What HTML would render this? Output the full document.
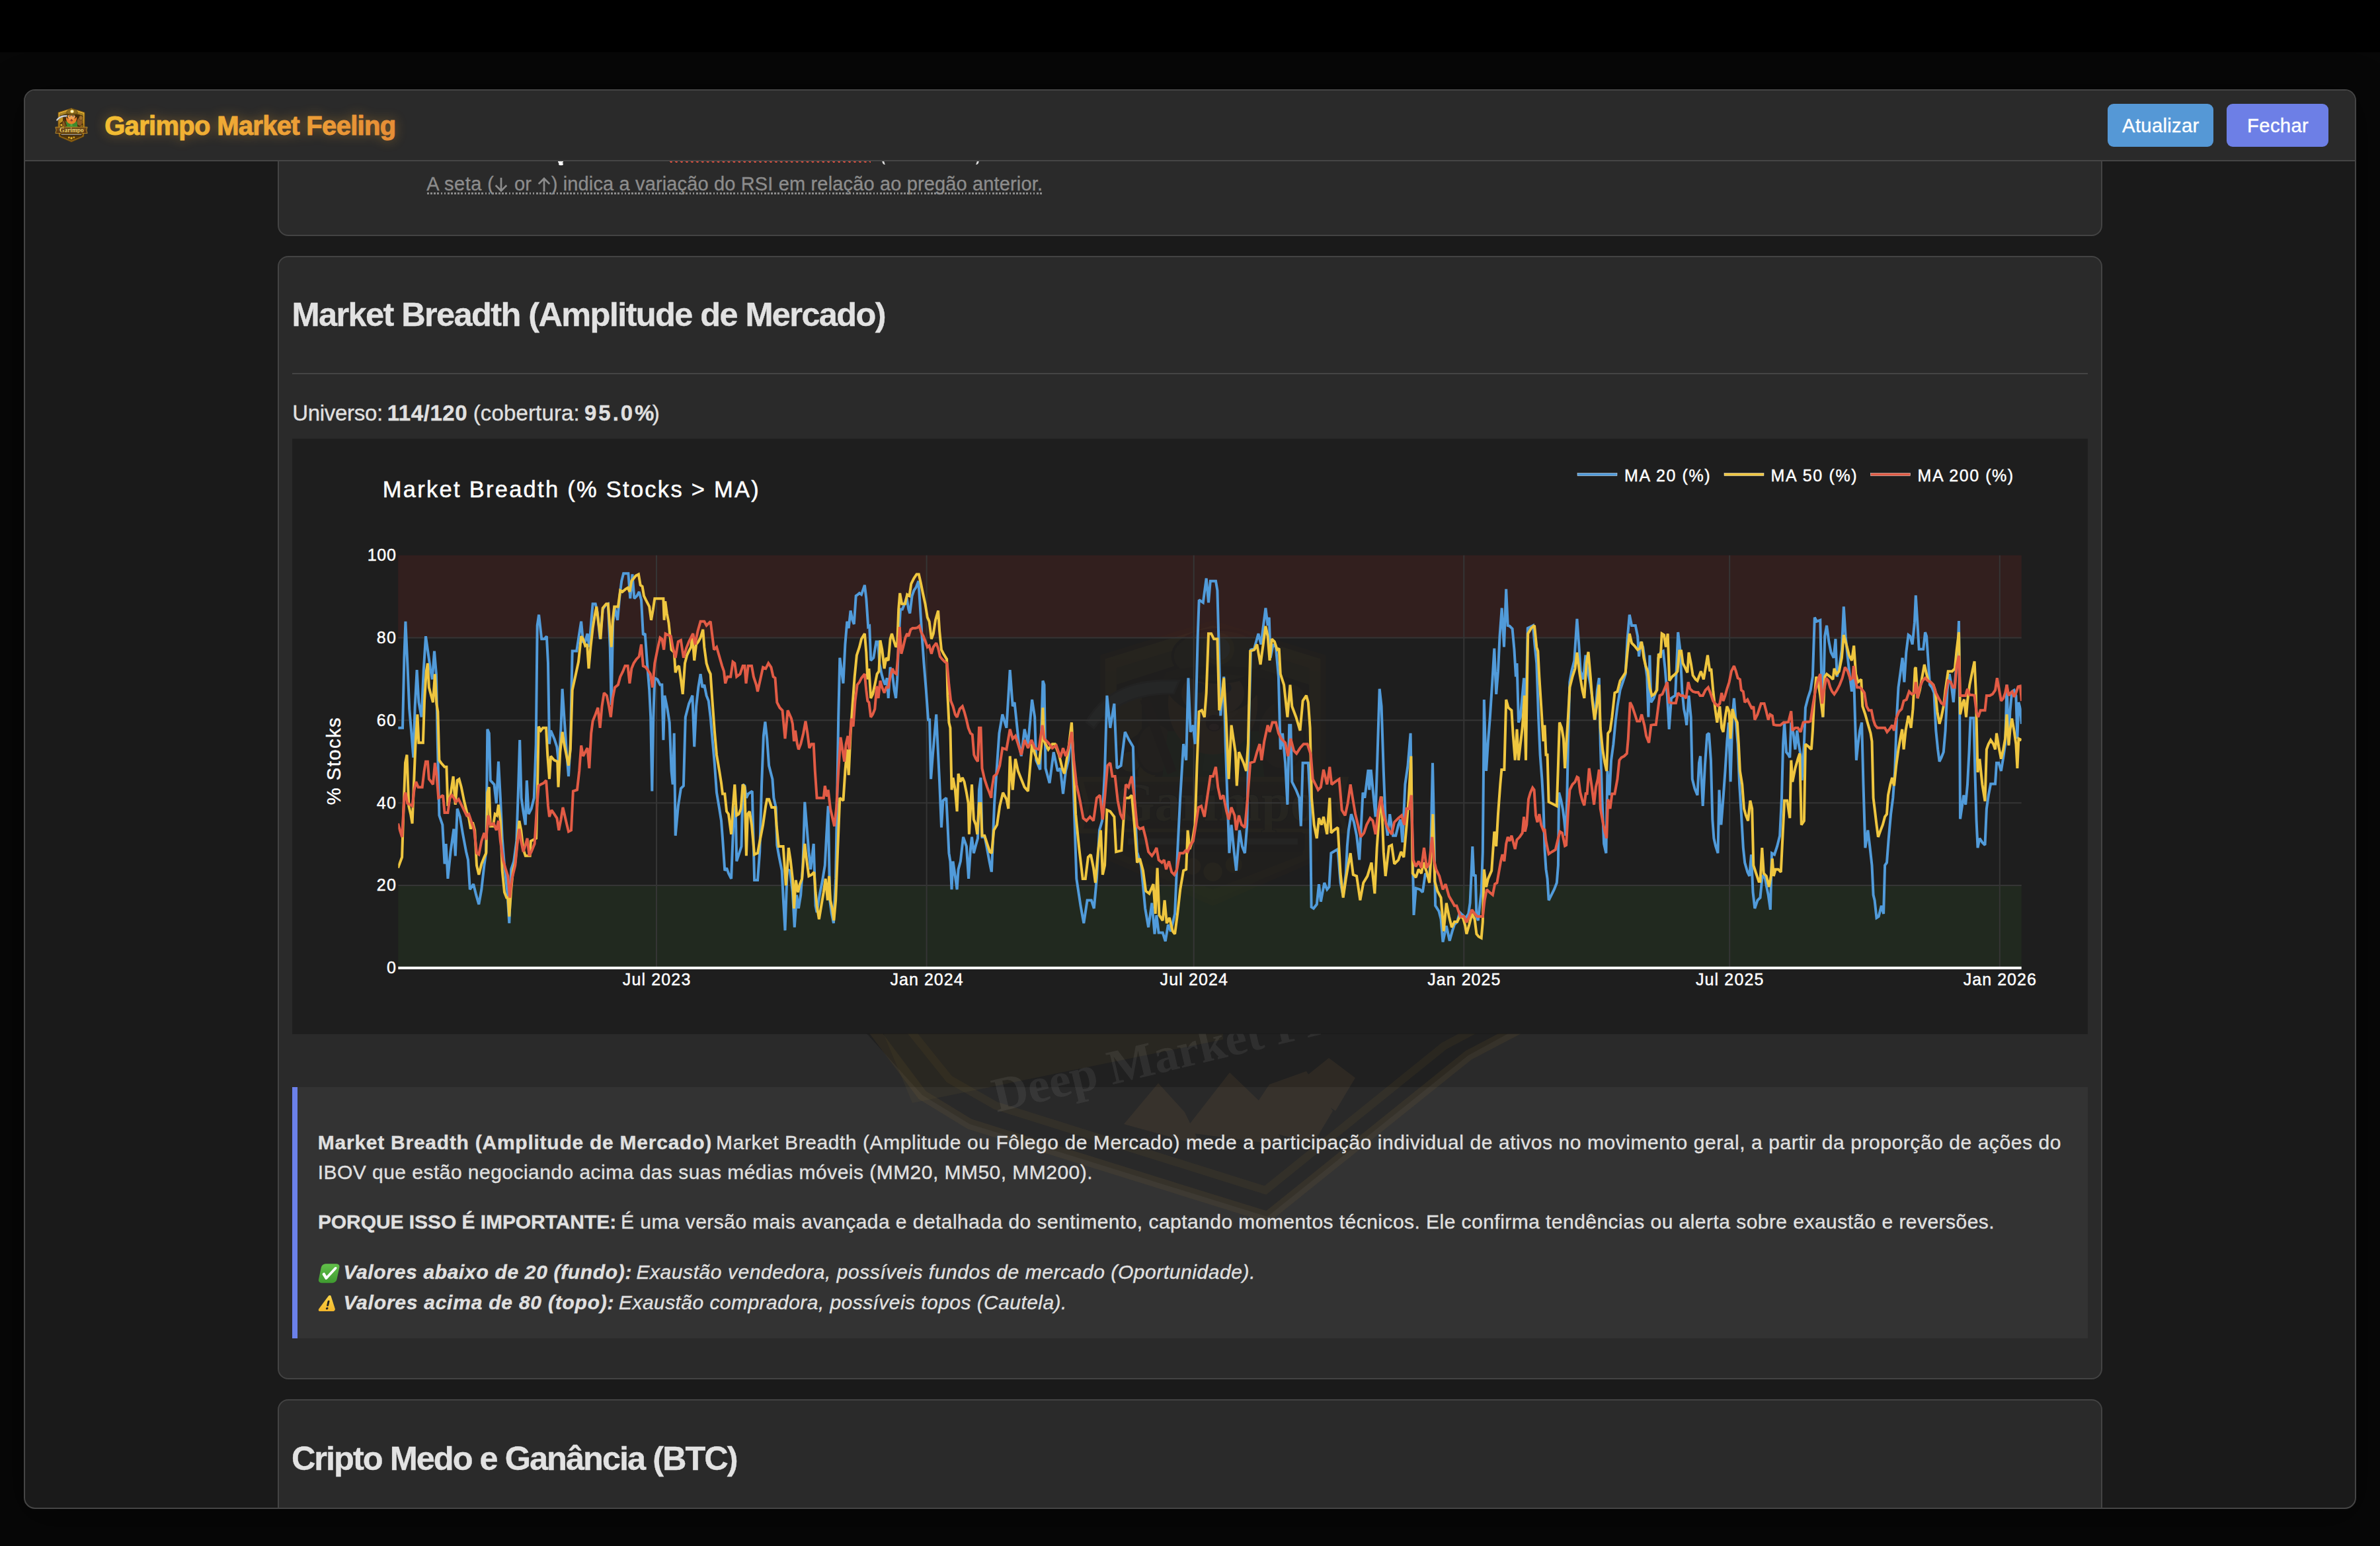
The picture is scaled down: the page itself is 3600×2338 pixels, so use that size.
<!DOCTYPE html>
<html lang="pt-BR">
<head>
<meta charset="utf-8">
<title>Garimpo Market Feeling</title>
<style>
html,body{margin:0;padding:0;}
body{width:3600px;height:2338px;overflow:hidden;background:#070707;font-family:"Liberation Sans", sans-serif;position:relative;}
.topbar{position:absolute;left:0;top:0;width:3600px;height:79px;background:#000;}
.modal{position:absolute;left:36px;top:135px;width:3524px;height:2143px;border:2px solid #454545;border-radius:17px;background:#1a1a1a;box-shadow:0 10px 60px 4px rgba(0,0,0,.45);overflow:hidden;}
.page{position:absolute;left:-38px;top:-137px;width:3600px;height:2338px;}
.hdr{position:absolute;left:38px;top:137px;width:3524px;height:105px;background:#2a2a2a;border-bottom:2px solid #454545;z-index:5;}
.card{position:absolute;left:420px;width:2756px;border:2px solid #434343;border-radius:16px;background:#2a2a2a;}
.t{position:absolute;margin:0;white-space:pre;line-height:1;-webkit-text-stroke:.35px currentColor;}
.btn{position:absolute;top:157px;height:64.5px;border-radius:9px;}
.hr{position:absolute;left:442px;top:563.7px;width:2716px;height:2px;background:#444;}
.info{position:absolute;left:442px;top:1644px;width:2708px;height:380px;border-left:8px solid #6b80e9;background:rgba(255,255,255,.043);}
svg.plot,svg.wm{position:absolute;left:0;top:0;}
.ico{position:absolute;}
.frag{position:absolute;background:#fff;}
</style>
</head>
<body>
<div class="topbar"></div>
<div class="modal"><div class="page">

<svg width="0" height="0" style="position:absolute"><defs><linearGradient id="lgGold" x1="0" y1="0" x2="0" y2="1"><stop offset="0" stop-color="#e9b738"/><stop offset=".5" stop-color="#b9831b"/><stop offset="1" stop-color="#8a5f12"/></linearGradient>
<linearGradient id="lgBan" x1="0" y1="0" x2="0" y2="1"><stop offset="0" stop-color="#7b501b"/><stop offset="1" stop-color="#4f3010"/></linearGradient>
<linearGradient id="lgTxt" x1="0" y1="0" x2="0" y2="1"><stop offset="0" stop-color="#fff3b0"/><stop offset="1" stop-color="#e2b93c"/></linearGradient>
<g id="logo">
<path d="M32 7.800L52 14v22.600l-.8 9-.6 5L32 58.700 13.400 50.600l-.6-5-.8-9V14z" fill="url(#lgGold)" stroke="#6d4a0d" stroke-width=".9"/>
<path d="M32 10.600l17.500 5.400V37h-35V16z" fill="#3f2a0b"/>
<path d="M32 10.600l17.500 5.400v3L32 13.400 14.500 19v-3z" fill="#caa02c" opacity=".75"/>
<path d="M14.500 21l4.600-2.600v9.200l-4.600 2.800zM49.500 21l-4.600-2.600v10l4.600 2.600z" fill="#d7a526" opacity=".85"/>
<circle cx="17" cy="33" r="1.800" fill="#e3b22e"/><circle cx="20" cy="35" r="1.600" fill="#c9961c"/><circle cx="47" cy="34.200" r="1.800" fill="#8a6420"/>
<path d="M15.200 46h33.600l-.5 3.900L32 56.200 15.700 49.900z" fill="#523609"/>
<ellipse cx="21.600" cy="30.600" rx="3.500" ry="4.600" fill="#86561f" stroke="#3a2408" stroke-width=".5"/>
<ellipse cx="44.400" cy="28.200" rx="4.300" ry="6.200" fill="#8f5c25" stroke="#3a2408" stroke-width=".5"/>
<ellipse cx="46.300" cy="22.400" rx="2.900" ry="3.600" fill="#a3712c" stroke="#3a2408" stroke-width=".5"/>
<path d="M23.800 27.500h16.600l1 8.700H22.800z" fill="#3d8a2e"/>
<path d="M30.600 30.500l1.400 1.200 1.400-1.200 .4 4.200h-3.600z" fill="#57a83f"/>
<ellipse cx="32" cy="20.600" rx="5.700" ry="4.200" fill="#f0a252"/>
<path d="M24 20.800c-.8 6 2.700 10.700 8 10.900 5.300-.2 8.800-4.900 8-10.900-1.900 2.500-4.300 3.300-6.300 3.100l-1.700-.6-1.700.6c-2 .2-4.400-.6-6.300-3.100z" fill="#e77f2a"/>
<path d="M27.300 23.600c1.600 1 3.200 1 4.700-.1 1.500 1.100 3.100 1.100 4.700.1-.6 1.700-2.400 2.300-4.700 1.200-2.300 1.100-4.100.5-4.700-1.200z" fill="#f5a24b"/>
<ellipse cx="32.200" cy="26" rx="1.500" ry="1.500" fill="#5a1a10"/><ellipse cx="32.200" cy="26.700" rx=".9" ry=".6" fill="#e8727a"/>
<circle cx="29.600" cy="19.600" r=".9" fill="#2a4a86"/><circle cx="34.500" cy="19.600" r=".9" fill="#2a4a86"/>
<ellipse cx="33" cy="13.800" rx="8.300" ry="4.800" fill="#8a6a1e" stroke="#3e2a08" stroke-width=".5"/>
<path d="M23.600 16.800c3-1.500 15.800-1.500 18.800 0l1 1.700c-4-1.700-16.800-1.700-20.800 0z" fill="#5e4310"/>
<circle cx="33" cy="12.500" r="2.500" fill="#fff6c4" stroke="#dcae34" stroke-width=".8"/>
<path d="M19.600 21.600l5 13.400" stroke="#54340f" stroke-width="1.800" fill="none"/>
<path d="M9 25.800c2.900-5.400 8.600-8 16.900-7.500l-1 2.300c-6.400 0-11.100 1.800-14.500 6.300z" fill="#d5d9df" stroke="#7d828a" stroke-width=".35"/>
<path d="M7.900 36.200h48.200l-1.300 4.700 1.300 4.700H7.900l1.300-4.700z" fill="url(#lgBan)" stroke="#c4932a" stroke-width=".9"/>
<text x="14.100" y="43.700" font-family="'Liberation Serif',serif" font-weight="700" font-size="9.900" textLength="36.700" lengthAdjust="spacingAndGlyphs" fill="url(#lgTxt)" stroke="#33200a" stroke-width=".3" paint-order="stroke">Garimpo</text>
<rect x="15.300" y="45.800" width="33.400" height="3.500" rx=".8" fill="#36220c"/>
<rect x="16.600" y="46.950" width="30.800" height="1.100" fill="#d9d2c4" opacity=".8"/>
<circle cx="28.300" cy="52" r="1.500" fill="#d9a522"/><circle cx="32" cy="53" r="1.700" fill="#e3b12c"/><circle cx="35.800" cy="51.700" r="1.500" fill="#c9961c"/>
</g>
</defs></svg>

<!-- scrolled content -->
<div class="card" style="top:100px;height:253px;"></div>
<div class="card" style="top:387px;height:1695px;"></div>
<div class="card" style="top:2116px;height:300px;"></div>

<!-- fragments of clipped line under header -->
<div class="frag" style="left:843.5px;top:244px;width:8px;height:3px;border-radius:0 0 3px 3px;"></div>
<div class="frag" style="left:844.5px;top:246.5px;width:7px;height:3.2px;border-radius:1px 1px 3px 3px;"></div>
<div style="position:absolute;left:1012.6px;top:241.6px;width:304px;height:4.4px;background:radial-gradient(circle at 2.2px 2.2px,#e25241 1.9px,transparent 2.3px) 0 0/7.95px 4.4px repeat-x;"></div>
<div class="frag" style="left:1335px;top:244px;width:3px;height:5px;border-radius:0 0 0 3px;background:#ddd;transform:skewX(18deg);"></div>
<div class="frag" style="left:1477px;top:244px;width:3px;height:5px;border-radius:0 0 3px 0;background:#ddd;transform:skewX(-18deg);"></div>

<div class="hr"></div>

<svg class="plot" width="3600" height="2338" viewBox="0 0 3600 2338">
<rect x="442" y="663.5" width="2716" height="900.5" fill="#1e1e1e"/>
<rect x="602.3" y="839.7" width="2455.4" height="124.8" fill="#321f1e"/>
<rect x="602.3" y="1339.0" width="2455.4" height="124.8" fill="#21291f"/>
<g opacity="0.04" transform="translate(1568,877) scale(8.33)"><use href="#logo"/></g>
<line x1="602.3" x2="3057.7" y1="1339.0" y2="1339.0" stroke="#353535" stroke-width="2"/>
<line x1="602.3" x2="3057.7" y1="1214.2" y2="1214.2" stroke="#353535" stroke-width="2"/>
<line x1="602.3" x2="3057.7" y1="1089.3" y2="1089.3" stroke="#353535" stroke-width="2"/>
<line x1="602.3" x2="3057.7" y1="964.5" y2="964.5" stroke="#353535" stroke-width="2"/>
<line x1="993" x2="993" y1="839.7" y2="1463.8" stroke="#353535" stroke-width="2"/>
<line x1="1401.6" x2="1401.6" y1="839.7" y2="1463.8" stroke="#353535" stroke-width="2"/>
<line x1="1805.7" x2="1805.7" y1="839.7" y2="1463.8" stroke="#353535" stroke-width="2"/>
<line x1="2214.3" x2="2214.3" y1="839.7" y2="1463.8" stroke="#353535" stroke-width="2"/>
<line x1="2616.2" x2="2616.2" y1="839.7" y2="1463.8" stroke="#353535" stroke-width="2"/>
<line x1="3024.8" x2="3024.8" y1="839.7" y2="1463.8" stroke="#353535" stroke-width="2"/>
<clipPath id="plotclip"><rect x="602.3" y="839.7" width="2455.4" height="628.1"/></clipPath>
<g fill="none" stroke-width="4" stroke-linejoin="miter" stroke-miterlimit="2" stroke-linecap="butt" clip-path="url(#plotclip)">
<polyline stroke="#519bda" points="602.0,1100.8 609.0,1100.8 611.4,994.8 613.4,939.8 616.3,1003.0 619.2,1072.2 622.4,1108.9 625.3,1145.6 627.7,1068.2 630.6,1013.2 633.4,1062.1 637.5,1084.5 640.7,1015.2 644.0,962.2 646.9,982.6 650.9,1011.1 653.8,1027.4 657.0,984.6 659.9,1019.3 661.9,1125.2 664.4,1233.2 669.3,1247.4 672.5,1306.5 674.6,1276.0 677.4,1328.9 681.5,1288.2 686.4,1253.6 688.8,1294.3 691.7,1223.0 695.8,1235.2 699.8,1259.7 705.1,1288.2 708.0,1300.4 710.8,1345.2 716.1,1337.1 720.2,1353.4 724.3,1367.6 728.3,1345.2 732.4,1308.6 735.3,1288.2 737.3,1102.8 739.8,1108.9 741.8,1180.2 747.5,1186.3 750.8,1214.9 754.0,1151.7 756.9,1206.7 759.7,1267.8 763.0,1308.6 767.1,1345.2 770.3,1396.2 773.2,1314.7 777.2,1302.5 781.3,1271.9 784.2,1186.3 786.2,1119.1 788.6,1206.7 791.5,1227.1 794.8,1247.4 796.8,1180.2 799.6,1231.2 803.7,1223.0 807.8,1206.7 810.7,1125.2 812.7,945.9 815.1,929.6 819.2,966.3 823.3,966.3 826.9,962.2 829.0,1003.0 831.0,1125.2 833.1,1104.8 838.4,1117.1 842.4,1129.3 845.3,1157.8 848.5,1100.8 850.6,1041.7 853.4,1084.5 856.7,1133.4 860.0,1174.1 862.8,1125.2 865.7,984.6 872.2,984.6 876.2,958.2 879.1,939.8 882.0,970.4 885.2,970.4 888.5,958.2 891.3,978.5 894.2,941.9 896.6,913.3 900.7,913.3 903.5,925.6 907.6,966.3 911.7,921.5 915.8,915.4 919.8,913.3 922.7,978.5 924.7,1066.1 927.2,941.9 930.0,919.5 934.1,937.8 937.4,901.1 940.2,878.7 943.1,867.3 950.4,867.3 953.3,905.2 956.5,868.5 959.4,905.2 963.4,901.1 966.7,895.0 970.0,907.2 972.8,960.2 975.7,958.2 978.9,1003.0 982.2,1043.7 984.2,1084.5 986.3,1196.5 988.3,1084.5 990.3,1025.4 994.4,1027.4 998.5,1035.6 1001.3,1035.6 1003.4,1119.1 1005.4,1051.9 1009.5,1072.2 1012.7,1092.6 1015.6,1166.0 1017.6,1186.3 1019.7,1108.9 1021.7,1263.7 1025.8,1218.9 1029.9,1192.4 1033.9,1188.4 1036.8,1084.5 1042.1,1064.1 1047.4,1051.9 1050.2,1129.3 1053.1,1068.2 1056.3,1039.6 1059.6,1019.3 1062.5,1039.6 1065.3,1035.6 1068.6,1051.9 1071.8,1060.0 1074.7,1084.5 1077.5,1117.1 1080.8,1153.7 1084.0,1198.6 1088.1,1223.0 1091.0,1241.3 1093.0,1267.8 1096.3,1316.7 1099.1,1312.6 1102.0,1320.8 1106.1,1328.9 1109.3,1247.4 1112.6,1218.9 1114.2,1302.5 1117.5,1292.3 1121.5,1280.0 1123.6,1186.3 1126.4,1188.4 1128.9,1206.7 1131.7,1200.6 1137.8,1196.5 1141.1,1331.0 1146.0,1331.0 1149.2,1288.2 1152.1,1186.3 1154.9,1113.0 1157.4,1091.4 1160.2,1117.1 1163.1,1157.8 1168.4,1178.2 1170.4,1206.7 1173.7,1221.0 1175.3,1278.0 1178.6,1296.3 1182.7,1316.7 1184.7,1357.5 1187.5,1407.2 1190.8,1314.7 1194.9,1316.7 1198.9,1349.3 1201.8,1402.3 1205.1,1353.4 1207.9,1373.8 1211.2,1353.4 1214.4,1308.6 1217.3,1212.8 1220.1,1247.4 1223.4,1288.2 1226.2,1314.7 1230.7,1276.0 1233.6,1369.7 1235.6,1379.9 1239.7,1353.4 1243.8,1333.0 1247.8,1308.6 1249.9,1267.8 1252.7,1218.9 1255.2,1361.5 1258.0,1381.9 1260.9,1396.2 1264.1,1328.9 1266.2,1206.7 1268.2,1084.5 1270.3,994.8 1273.1,1015.2 1275.5,1033.5 1278.4,974.5 1281.3,939.8 1283.7,950.0 1286.6,923.5 1289.4,937.8 1291.8,943.9 1294.7,901.1 1297.6,899.1 1300.0,897.0 1303.0,899.1 1307.9,884.8 1310.3,905.2 1313.2,948.0 1315.2,946.8 1317.2,998.9 1321.3,994.8 1325.4,970.4 1328.2,970.4 1330.3,1003.0 1333.5,1019.3 1336.4,1029.5 1338.8,1035.6 1341.7,1025.4 1343.7,1055.9 1346.6,1009.1 1349.8,1019.3 1352.7,1043.7 1355.1,1055.9 1357.2,1027.4 1359.2,970.4 1362.0,921.5 1364.9,921.5 1368.2,913.3 1371.4,903.2 1374.3,921.5 1376.3,927.6 1379.6,901.1 1382.4,893.0 1385.7,888.1 1389.3,878.7 1391.8,917.4 1394.6,962.2 1397.5,1003.0 1400.8,1043.7 1404.0,1088.5 1406.1,1088.5 1408.1,1178.2 1410.9,1141.5 1413.8,1108.9 1416.2,1080.4 1418.3,1125.2 1421.1,1182.3 1424.0,1251.5 1426.4,1210.8 1431.3,1206.7 1433.4,1247.4 1435.4,1290.2 1437.4,1302.5 1439.5,1345.2 1441.5,1302.5 1444.8,1324.9 1447.6,1345.2 1449.6,1314.7 1452.9,1302.5 1457.0,1265.8 1461.9,1280.0 1465.1,1328.9 1468.0,1284.1 1470.0,1265.8 1472.9,1290.2 1476.1,1278.0 1479.0,1267.8 1481.0,1194.5 1483.5,1176.1 1485.5,1265.8 1489.6,1265.8 1492.4,1280.0 1496.5,1302.5 1499.4,1316.7 1500.0,1316.7 1504.1,1214.9 1511.4,1108.9 1516.3,1080.4 1522.4,1100.8 1527.7,1013.2 1531.8,1068.2 1534.6,1062.1 1540.7,1121.1 1544.8,1143.5 1549.7,1102.8 1555.0,1125.2 1561.1,1058.0 1565.2,1084.5 1567.2,1149.7 1573.3,1163.9 1577.4,1029.5 1579.5,1035.6 1581.5,1161.9 1587.6,1184.3 1593.7,1137.4 1599.8,1166.0 1603.9,1161.9 1608.0,1200.6 1612.0,1166.0 1616.1,1149.7 1621.0,1100.8 1624.3,1206.7 1628.3,1328.9 1634.5,1369.7 1639.3,1396.2 1644.6,1361.5 1650.8,1361.5 1654.8,1373.8 1658.9,1328.9 1663.0,1255.6 1667.1,1241.3 1671.1,1166.0 1674.4,1051.9 1679.3,1100.8 1685.4,1064.1 1689.5,1161.9 1695.6,1157.8 1701.7,1106.9 1707.8,1119.1 1713.9,1129.3 1715.9,1206.7 1720.0,1288.2 1726.1,1308.6 1732.2,1373.8 1737.1,1402.3 1742.4,1365.6 1746.5,1412.5 1749.4,1383.9 1752.6,1410.4 1758.7,1410.4 1762.8,1423.5 1766.9,1398.2 1771.0,1408.4 1777.1,1381.9 1781.1,1288.2 1785.2,1206.7 1790.1,1125.2 1794.2,1149.7 1797.4,1025.4 1800.7,1106.9 1804.8,1096.7 1807.6,1125.2 1811.7,962.2 1813.7,907.2 1819.8,911.3 1824.7,874.6 1828.0,911.3 1830.8,878.7 1839.0,878.7 1841.4,893.0 1844.3,1003.0 1846.3,1082.4 1851.2,1023.4 1853.7,1125.2 1856.5,1206.7 1859.4,1290.2 1862.6,1247.4 1866.7,1288.2 1870.0,1316.7 1874.9,1255.6 1878.9,1280.0 1883.0,1290.2 1886.3,1247.4 1889.1,1092.6 1892.0,982.6 1897.3,980.6 1903.4,958.2 1907.4,974.5 1914.4,919.5 1917.6,945.9 1919.7,933.7 1921.7,994.8 1925.8,974.5 1929.9,978.5 1933.9,1023.4 1936.8,1133.4 1940.0,1108.9 1944.1,1153.7 1947.4,1216.9 1950.2,1096.7 1952.3,1096.7 1954.3,1182.3 1960.4,1194.5 1965.3,1206.7 1967.8,1249.5 1970.6,1153.7 1978.8,1153.7 1981.6,1206.7 1983.6,1371.7 1986.9,1373.8 1991.8,1367.6 1995.0,1337.1 1997.9,1363.6 2003.2,1335.0 2007.3,1345.2 2010.5,1341.2 2013.4,1290.2 2023.6,1284.1 2027.6,1335.0 2031.7,1355.4 2035.8,1320.8 2037.8,1280.0 2039.9,1255.6 2043.9,1231.2 2048.0,1243.4 2052.1,1263.7 2056.2,1300.4 2061.5,1198.6 2064.3,1206.7 2069.6,1163.9 2071.2,1194.5 2073.7,1163.9 2077.8,1206.7 2080.6,1235.2 2086.7,1041.7 2089.6,1068.2 2092.8,1166.0 2095.7,1239.3 2098.9,1263.7 2102.2,1231.2 2107.1,1263.7 2111.2,1263.7 2115.2,1247.4 2118.5,1239.3 2121.4,1273.9 2125.4,1186.3 2129.5,1157.8 2133.6,1108.9 2135.6,1231.2 2138.5,1383.9 2141.7,1343.2 2147.8,1345.2 2151.9,1349.3 2156.0,1320.8 2162.1,1328.9 2164.1,1288.2 2167.0,1153.7 2169.0,1247.4 2171.1,1369.7 2176.4,1377.8 2179.6,1390.1 2182.5,1424.7 2187.8,1400.2 2192.7,1422.7 2196.7,1408.4 2200.0,1398.2 2204.1,1394.1 2208.1,1379.9 2212.2,1383.9 2217.1,1388.0 2221.2,1381.9 2223.6,1365.6 2225.3,1328.9 2227.3,1280.0 2229.3,1324.9 2231.8,1322.8 2233.4,1386.0 2235.9,1392.1 2238.7,1365.6 2240.7,1349.3 2242.8,1288.2 2244.0,1166.0 2244.8,1058.0 2246.9,1133.4 2248.1,1166.0 2250.9,1121.1 2253.8,1084.5 2257.0,1035.6 2260.3,980.6 2263.2,1049.8 2266.0,1015.2 2268.5,962.2 2271.7,919.5 2275.0,978.5 2278.2,890.9 2280.7,945.9 2283.5,946.8 2287.6,950.8 2290.5,982.6 2292.9,1023.4 2294.5,1003.0 2297.0,1092.6 2299.8,1084.5 2302.7,1051.9 2305.1,1025.4 2308.0,1084.5 2310.8,950.0 2314.9,948.0 2319.0,945.9 2321.4,974.5 2324.3,1003.0 2327.1,1084.5 2329.6,1141.5 2332.4,1178.2 2334.5,1214.9 2336.5,1284.1 2338.5,1314.7 2340.6,1328.9 2342.6,1361.5 2346.7,1353.4 2350.8,1345.2 2354.8,1335.0 2356.9,1308.6 2358.1,1198.6 2360.9,1208.7 2363.8,1223.0 2366.2,1241.3 2368.3,1263.7 2370.3,1206.7 2371.9,1125.2 2374.4,1031.5 2377.2,1015.2 2381.3,998.9 2385.4,935.8 2388.2,974.5 2390.7,1015.2 2394.8,1027.4 2398.4,990.8 2401.7,1015.2 2405.8,1035.6 2409.8,1064.1 2412.7,1088.5 2415.9,1043.7 2418.8,1025.4 2420.8,1125.2 2423.3,1206.7 2426.1,1276.0 2429.4,1290.2 2431.4,1166.0 2434.3,1202.6 2437.1,1149.7 2440.4,1125.2 2443.7,1090.6 2446.5,1068.2 2450.6,1043.7 2454.7,1031.5 2458.7,1019.3 2461.6,966.3 2464.8,929.6 2468.1,945.9 2473.8,945.9 2477.1,962.2 2479.1,992.8 2482.0,970.4 2485.2,978.5 2488.5,1003.0 2491.3,1023.4 2493.4,1084.5 2495.4,990.8 2497.4,1062.1 2501.5,1055.9 2505.6,1043.7 2508.4,994.8 2511.7,986.7 2515.8,984.6 2518.6,1011.1 2521.9,1051.9 2524.7,1102.8 2528.0,1055.9 2530.8,1053.9 2534.1,1051.9 2538.2,956.1 2541.4,982.6 2544.3,1043.7 2547.1,1072.2 2549.6,1084.5 2551.2,1096.7 2554.5,1051.9 2557.7,1084.5 2559.8,1178.2 2563.4,1192.4 2567.5,1202.6 2570.0,1153.7 2572.0,1143.5 2575.7,1218.9 2578.9,1157.8 2582.2,1111.0 2585.0,1108.9 2587.9,1149.7 2590.3,1239.3 2592.4,1267.8 2595.2,1280.0 2598.5,1290.2 2600.5,1194.5 2603.4,1247.4 2606.6,1206.7 2609.5,1166.0 2612.3,1121.1 2614.8,1092.6 2617.6,1182.3 2620.5,1084.5 2622.9,1055.9 2625.8,1092.6 2628.6,1125.2 2631.1,1186.3 2633.9,1231.2 2636.8,1282.1 2639.2,1304.5 2643.3,1318.8 2646.2,1324.9 2649.0,1292.3 2651.5,1349.3 2654.3,1373.8 2658.4,1361.5 2662.5,1357.5 2665.3,1328.9 2668.6,1320.8 2671.8,1339.1 2674.7,1353.4 2677.9,1375.8 2680.0,1290.2 2684.0,1292.3 2688.1,1280.0 2692.2,1263.7 2695.0,1206.7 2697.1,1125.2 2699.1,1092.6 2702.0,1137.4 2705.2,1141.5 2707.3,1145.6 2709.3,1092.6 2712.6,1108.9 2715.4,1133.4 2718.3,1104.8 2720.7,1125.2 2723.6,1141.5 2725.6,1180.2 2728.9,1125.2 2730.9,1070.2 2734.6,1055.9 2738.6,1043.7 2741.9,1023.4 2744.8,933.7 2748.0,939.8 2753.3,937.8 2755.4,1035.6 2757.4,1084.5 2760.2,962.2 2763.1,945.9 2766.4,970.4 2769.6,986.7 2773.7,994.8 2776.5,966.3 2778.6,1023.4 2781.8,1011.1 2785.9,982.6 2788.8,917.4 2791.6,962.2 2794.9,994.8 2798.1,1023.4 2801.0,1045.8 2803.8,1011.1 2805.9,1084.5 2807.9,1149.7 2810.4,1125.2 2813.2,1104.8 2816.1,1092.6 2818.5,1186.3 2821.4,1282.1 2825.4,1255.6 2828.3,1280.0 2831.5,1308.6 2833.6,1353.4 2835.6,1361.5 2838.5,1388.0 2841.7,1386.0 2845.8,1369.7 2849.1,1381.9 2851.1,1308.6 2854.0,1304.5 2856.8,1267.8 2860.1,1231.2 2863.3,1206.7 2866.2,1166.0 2869.0,1084.5 2871.5,1039.6 2874.3,1019.3 2877.6,994.8 2880.4,1031.5 2883.3,986.7 2886.6,960.2 2889.4,962.2 2892.7,974.5 2895.9,941.9 2897.8,900.3 2900.6,945.9 2902.7,981.8 2909.2,981.8 2912.0,956.1 2914.1,962.2 2916.9,1003.0 2919.0,1035.6 2922.2,1039.6 2925.5,1047.8 2928.3,1104.8 2931.2,1133.4 2933.6,1151.7 2936.5,1145.6 2939.8,1137.4 2942.6,1104.8 2945.5,1043.7 2948.7,1019.3 2951.6,1035.6 2954.8,1062.1 2958.1,1019.3 2960.9,994.8 2963.0,939.0 2964.2,1084.5 2965.0,1238.5 2967.9,1218.9 2970.3,1202.6 2973.2,1216.9 2976.0,1186.3 2978.5,1137.4 2980.5,1085.7 2985.4,1085.7 2987.4,1166.0 2989.5,1239.3 2991.5,1282.1 2994.4,1267.8 2998.4,1273.9 3002.5,1278.0 3004.9,1223.0 3007.8,1202.6 3011.1,1185.5 3018.0,1185.5 3020.0,1153.7 3023.3,1153.7 3026.9,1166.0 3030.2,1145.6 3033.1,1125.2 3035.5,1035.6 3038.4,1125.2 3040.4,1076.3 3043.2,1045.8 3046.5,1043.7 3049.4,1051.9 3051.4,1117.1 3053.4,1062.1 3055.9,1072.2 3057.9,1094.7"/>
<polyline stroke="#efc63f" points="602.0,1312.6 608.1,1296.3 610.2,1231.2 613.0,1153.7 615.5,1141.5 618.3,1218.9 621.2,1231.2 623.6,1245.4 626.5,1174.1 628.5,1125.2 631.4,1080.4 633.4,1123.2 639.9,1123.2 642.0,1060.0 644.8,1015.2 646.9,1003.0 648.9,1039.6 652.2,1051.9 655.0,1062.1 657.9,1019.3 660.3,1064.1 662.3,1076.3 664.4,1149.7 667.2,1153.7 672.5,1159.8 675.4,1159.8 677.4,1218.9 680.7,1206.7 685.6,1174.1 688.8,1216.9 691.7,1180.2 694.5,1178.2 697.8,1190.4 701.9,1210.8 705.9,1227.1 709.2,1237.3 712.0,1253.6 714.9,1243.4 718.2,1255.6 721.0,1308.6 724.3,1322.8 728.3,1306.5 732.4,1296.3 735.3,1290.2 737.3,1198.6 739.8,1190.4 741.8,1249.5 745.9,1249.5 748.7,1231.2 751.6,1233.2 754.0,1216.9 756.9,1241.3 759.7,1316.7 763.0,1349.3 766.2,1357.5 768.3,1357.5 770.3,1386.0 773.2,1345.2 776.0,1316.7 779.3,1304.5 782.5,1271.9 785.4,1241.3 788.2,1255.6 791.5,1284.1 794.8,1294.3 801.7,1294.3 802.9,1271.9 811.1,1267.8 812.7,1206.7 814.7,1098.7 818.0,1104.8 821.2,1100.8 826.1,1100.8 828.2,1141.5 831.0,1178.2 833.1,1143.5 838.4,1149.7 843.2,1151.7 844.5,1190.4 847.3,1137.4 850.6,1106.9 853.4,1125.2 856.7,1141.5 860.0,1157.8 862.8,1133.4 865.7,1043.7 871.0,1019.3 875.0,1000.9 879.1,962.2 882.0,966.3 885.2,976.5 888.1,974.5 890.5,1011.1 893.4,978.5 896.6,950.0 899.5,931.7 902.3,917.4 905.6,943.9 908.4,966.3 911.7,919.5 917.0,913.3 919.8,913.3 921.9,941.9 924.7,978.5 926.8,937.8 929.2,917.4 934.9,917.4 938.2,893.0 941.4,895.0 946.3,890.9 949.6,888.9 952.4,895.0 955.3,878.7 958.6,874.6 961.8,870.6 965.9,868.5 968.7,884.8 971.6,886.9 974.0,901.1 976.9,907.2 982.2,917.4 985.0,937.8 987.9,921.5 990.3,905.2 1003.4,905.2 1004.6,937.8 1006.2,909.3 1008.7,927.6 1011.5,941.9 1013.6,962.2 1015.6,982.6 1019.7,986.7 1021.7,1017.2 1024.6,1009.1 1027.0,1007.1 1029.9,1027.4 1032.7,1049.8 1036.0,1003.0 1039.2,990.8 1042.1,984.6 1045.3,978.5 1047.4,962.2 1050.2,998.9 1053.1,974.5 1056.3,970.4 1059.6,964.3 1063.3,952.0 1065.3,978.5 1068.6,1003.0 1071.8,1013.2 1074.7,1019.3 1077.5,1060.0 1080.8,1104.8 1084.0,1141.5 1088.1,1166.0 1091.0,1184.3 1093.0,1200.6 1096.3,1200.6 1099.1,1227.1 1102.0,1231.2 1106.1,1261.7 1108.5,1223.0 1111.3,1186.3 1114.2,1233.2 1117.5,1231.2 1120.7,1223.0 1123.6,1186.3 1126.4,1190.4 1128.9,1294.3 1130.9,1231.2 1133.8,1227.1 1137.0,1247.4 1141.1,1292.3 1146.0,1290.2 1150.1,1267.8 1154.1,1247.4 1158.2,1218.9 1160.2,1208.7 1163.1,1208.7 1167.2,1221.0 1172.5,1221.0 1174.5,1247.4 1177.8,1280.0 1184.7,1280.0 1186.7,1308.6 1188.8,1339.1 1190.8,1314.7 1192.8,1282.1 1195.7,1300.4 1198.9,1328.9 1201.0,1373.8 1203.8,1331.0 1207.1,1349.3 1209.9,1337.1 1213.2,1328.9 1215.2,1300.4 1217.3,1276.0 1220.1,1300.4 1223.4,1324.9 1227.5,1322.8 1231.5,1318.8 1233.6,1349.3 1235.6,1369.7 1238.9,1390.1 1243.0,1365.6 1245.8,1349.3 1248.7,1328.9 1251.9,1361.5 1254.0,1324.9 1256.0,1361.5 1258.8,1373.8 1261.3,1392.1 1264.1,1361.5 1267.0,1288.2 1270.3,1206.7 1275.5,1210.8 1278.4,1166.0 1281.3,1133.4 1283.7,1172.1 1286.6,1108.9 1289.4,1068.2 1292.7,1023.4 1295.9,990.8 1300.0,978.5 1303.0,966.3 1307.9,958.2 1310.3,986.7 1312.3,1027.4 1314.4,1011.1 1317.2,1055.9 1320.1,1049.8 1323.3,1035.6 1326.6,1019.3 1329.5,1015.2 1331.5,968.3 1334.3,982.6 1337.6,1011.1 1340.5,994.8 1343.7,998.9 1346.6,966.3 1349.0,958.2 1351.9,968.3 1355.1,978.5 1357.2,974.5 1359.2,921.5 1361.2,897.0 1364.1,913.3 1369.0,913.3 1372.2,899.1 1375.5,901.1 1378.3,882.8 1382.4,874.6 1386.5,868.5 1389.8,868.5 1392.6,880.7 1395.9,897.0 1399.5,913.3 1402.8,933.7 1405.6,939.8 1408.9,966.3 1411.8,958.2 1415.0,937.8 1419.1,923.5 1421.1,954.1 1424.0,982.6 1427.2,988.7 1432.1,996.9 1433.4,1051.9 1435.4,1092.6 1437.4,1100.8 1439.5,1194.5 1441.5,1176.1 1444.8,1194.5 1447.6,1227.1 1449.6,1170.0 1452.5,1182.3 1455.8,1176.1 1458.6,1182.3 1461.9,1198.6 1464.7,1214.9 1465.9,1261.7 1470.0,1186.3 1472.9,1239.3 1476.1,1247.4 1478.2,1261.7 1481.0,1214.9 1483.5,1214.9 1485.5,1263.7 1489.2,1263.7 1493.2,1276.0 1497.3,1288.2 1500.0,1290.2 1503.3,1255.6 1508.1,1247.4 1512.2,1218.9 1517.1,1198.6 1522.4,1208.7 1525.3,1223.0 1527.7,1143.5 1531.8,1194.5 1535.9,1147.6 1539.9,1166.0 1544.8,1178.2 1549.7,1190.4 1555.0,1196.5 1561.1,1125.2 1565.2,1139.5 1571.3,1155.8 1575.4,1125.2 1577.4,1070.2 1579.5,1121.1 1585.6,1133.4 1591.7,1125.2 1595.8,1125.2 1601.9,1141.5 1606.8,1161.9 1610.0,1170.0 1616.1,1133.4 1621.0,1092.6 1624.3,1166.0 1627.1,1231.2 1632.4,1284.1 1637.7,1328.9 1641.8,1328.9 1645.9,1296.3 1649.9,1292.3 1654.0,1312.6 1656.9,1335.0 1660.9,1288.2 1665.0,1255.6 1667.9,1322.8 1671.1,1308.6 1674.4,1225.0 1679.3,1227.1 1685.4,1235.2 1688.2,1288.2 1696.4,1286.2 1701.7,1206.7 1707.8,1206.7 1711.9,1202.6 1715.9,1247.4 1720.0,1304.5 1724.1,1298.4 1729.0,1316.7 1733.1,1347.3 1738.4,1351.3 1744.5,1337.1 1747.7,1381.9 1750.6,1312.6 1753.4,1383.9 1758.7,1392.1 1761.6,1361.5 1764.8,1396.2 1768.9,1388.0 1773.8,1408.4 1777.1,1412.5 1781.1,1381.9 1785.2,1345.2 1790.1,1316.7 1794.2,1314.7 1796.6,1255.6 1799.5,1284.1 1803.5,1271.9 1807.6,1247.4 1810.5,1157.8 1813.7,1076.3 1817.8,1074.3 1821.9,1084.5 1824.7,1047.8 1828.0,958.2 1832.1,958.2 1836.1,966.3 1841.4,966.3 1844.3,1074.3 1848.4,1053.9 1851.2,1025.4 1854.5,1084.5 1858.6,1178.2 1862.6,1096.7 1868.7,1137.4 1870.8,1188.4 1874.0,1137.4 1881.0,1153.7 1885.0,1166.0 1887.9,1125.2 1891.2,984.6 1897.3,982.6 1901.3,974.5 1906.6,1005.0 1910.7,974.5 1914.4,946.8 1917.6,962.2 1920.5,998.9 1923.7,966.3 1927.8,970.4 1931.9,982.6 1934.7,980.6 1936.8,1019.3 1942.1,1035.6 1947.4,1084.5 1951.5,1035.6 1954.3,1068.2 1960.4,1084.5 1966.5,1104.8 1970.6,1060.0 1975.9,1051.9 1978.8,1062.1 1981.6,1100.8 1984.0,1206.7 1987.7,1247.4 1991.8,1267.8 1995.0,1237.3 1999.1,1247.4 2002.0,1235.2 2007.3,1261.7 2011.3,1206.7 2013.4,1259.7 2017.5,1255.6 2023.6,1251.5 2027.6,1320.8 2031.7,1357.5 2035.8,1328.9 2038.6,1312.6 2042.7,1290.2 2046.8,1322.8 2052.1,1324.9 2057.4,1361.5 2062.3,1335.0 2068.4,1324.9 2074.5,1304.5 2079.4,1351.3 2082.7,1282.1 2086.7,1225.0 2089.6,1204.7 2092.8,1288.2 2095.7,1324.9 2101.0,1280.0 2105.1,1278.0 2109.1,1306.5 2115.2,1300.4 2119.3,1288.2 2123.4,1296.3 2127.5,1249.5 2130.7,1208.7 2134.4,1143.5 2136.8,1320.8 2141.7,1326.9 2145.8,1314.7 2149.9,1320.8 2153.1,1304.5 2158.0,1318.8 2162.1,1335.0 2165.0,1290.2 2167.4,1231.2 2170.3,1333.0 2174.3,1347.3 2179.6,1357.5 2183.7,1408.4 2187.8,1365.6 2191.8,1386.0 2195.9,1402.3 2200.0,1394.1 2204.1,1394.1 2208.1,1386.0 2213.0,1388.0 2216.3,1400.2 2218.3,1412.5 2222.4,1398.2 2226.5,1381.9 2230.6,1390.1 2233.4,1412.5 2236.7,1416.5 2240.7,1418.6 2242.8,1394.1 2244.8,1314.7 2248.1,1341.2 2250.9,1328.9 2256.2,1316.7 2260.3,1257.6 2263.2,1280.0 2266.0,1231.2 2269.3,1186.3 2271.3,1163.9 2275.4,1163.9 2278.2,1058.0 2281.5,1070.2 2286.4,1074.3 2288.8,1113.0 2291.7,1149.7 2294.5,1102.8 2297.0,1149.7 2299.8,1125.2 2302.7,1100.8 2305.9,1051.9 2308.0,1149.7 2310.0,1023.4 2311.2,958.2 2316.1,950.0 2321.0,945.9 2324.3,978.5 2326.3,984.6 2328.3,1023.4 2331.2,1068.2 2334.5,1121.1 2336.5,1096.7 2338.5,1141.5 2340.6,1141.5 2342.6,1212.8 2348.7,1215.7 2354.8,1218.9 2356.9,1157.8 2358.9,1092.6 2362.2,1100.8 2365.0,1117.1 2367.1,1161.9 2369.5,1121.1 2371.9,1084.5 2374.4,1039.6 2378.5,1023.4 2382.5,1011.1 2385.4,986.7 2389.5,1019.3 2393.5,1043.7 2396.4,1055.9 2399.6,1003.0 2402.5,985.9 2405.8,1023.4 2408.6,1060.0 2411.9,1088.5 2415.1,1068.2 2418.8,1035.6 2420.8,1100.8 2424.1,1133.4 2427.4,1153.7 2430.2,1166.0 2432.2,1108.9 2435.5,1104.8 2438.4,1084.5 2442.4,1047.8 2446.5,1045.8 2450.6,1029.5 2454.7,1023.4 2458.7,1017.2 2461.6,986.7 2464.8,958.2 2468.1,972.4 2472.2,976.5 2477.1,982.6 2480.3,980.6 2483.2,970.4 2486.4,994.8 2489.3,1007.1 2492.5,1015.2 2495.4,1039.6 2498.7,1051.9 2502.3,1049.8 2506.4,1043.7 2508.8,988.7 2511.7,994.8 2513.7,958.2 2517.0,960.2 2519.8,978.5 2522.7,958.2 2525.1,1029.5 2529.2,1023.4 2534.1,1019.3 2537.4,1015.2 2540.2,984.6 2543.1,984.6 2545.5,1003.0 2549.6,1011.1 2552.4,1017.2 2554.5,986.7 2557.7,1003.0 2560.6,1021.3 2564.7,1027.4 2567.5,1029.5 2572.8,1015.2 2576.9,1027.4 2579.7,1011.1 2583.0,990.8 2586.3,1015.2 2588.3,1011.1 2591.2,1043.7 2594.4,1072.2 2597.3,1092.6 2601.3,1068.2 2604.2,1100.8 2606.6,1106.9 2609.5,1084.5 2612.3,1068.2 2615.6,1076.3 2617.6,1117.1 2620.5,1072.2 2623.7,1084.5 2627.8,1092.6 2629.9,1125.2 2631.9,1166.0 2635.2,1186.3 2638.0,1223.0 2640.9,1233.2 2644.1,1241.3 2647.4,1210.8 2650.2,1223.0 2652.3,1308.6 2656.3,1320.8 2660.4,1333.0 2662.5,1333.0 2665.3,1282.1 2667.8,1320.8 2671.8,1324.9 2675.9,1341.2 2678.8,1324.9 2680.8,1298.4 2682.8,1324.9 2685.7,1314.7 2689.8,1314.7 2693.8,1318.8 2696.3,1267.8 2699.1,1210.8 2703.2,1210.8 2707.3,1237.3 2709.3,1149.7 2711.3,1182.3 2715.4,1161.9 2719.5,1147.6 2722.3,1139.5 2724.8,1247.4 2728.9,1241.3 2730.9,1125.2 2735.8,1129.3 2739.9,1133.4 2741.9,1104.8 2743.9,1064.1 2747.2,1023.4 2750.1,1031.5 2753.3,1051.9 2757.4,1084.5 2760.2,1023.4 2763.1,1019.3 2768.4,1023.4 2772.5,1027.4 2774.5,1011.1 2777.8,1019.3 2781.8,1015.2 2785.9,994.8 2788.8,960.2 2792.8,974.5 2796.9,990.8 2801.0,998.9 2804.2,976.5 2807.1,1019.3 2810.4,1031.5 2815.2,1027.4 2817.3,1068.2 2821.4,1080.4 2825.4,1094.7 2829.5,1108.9 2831.5,1121.1 2833.6,1206.7 2835.6,1223.0 2838.5,1247.4 2840.9,1265.8 2844.6,1255.6 2847.8,1247.4 2851.1,1235.2 2854.0,1231.2 2856.0,1202.6 2859.3,1186.3 2862.1,1176.1 2865.0,1188.4 2868.2,1157.8 2871.5,1133.4 2874.3,1117.1 2877.2,1102.8 2879.6,1133.4 2882.5,1104.8 2886.6,1082.4 2890.6,1100.8 2893.5,1072.2 2896.7,1011.1 2897.8,1009.1 2900.6,1055.9 2903.9,1043.7 2906.8,1027.4 2910.8,1005.0 2914.1,1019.3 2916.9,1029.5 2920.2,1031.5 2924.3,1035.6 2927.1,1043.7 2930.4,1076.3 2933.6,1094.7 2936.5,1084.5 2939.8,1068.2 2942.6,1043.7 2946.7,1015.2 2952.8,1015.2 2956.9,1011.1 2959.7,982.6 2963.0,956.1 2964.2,1023.4 2965.0,1080.4 2969.1,1062.1 2971.1,1058.0 2974.0,1084.5 2976.0,1060.0 2979.3,1035.6 2983.4,1015.2 2986.6,1000.1 2988.6,1043.7 2991.5,1168.0 2994.4,1147.6 2998.4,1186.3 3002.5,1211.6 3004.9,1133.4 3007.8,1125.2 3011.1,1119.1 3015.1,1125.2 3018.0,1133.4 3020.0,1108.9 3023.3,1129.3 3026.9,1147.6 3030.2,1133.4 3033.1,1117.1 3035.5,1080.4 3038.4,1127.3 3040.4,1104.8 3043.2,1086.5 3046.5,1104.8 3049.4,1125.2 3051.4,1161.9 3053.4,1117.1 3057.9,1119.1"/>
<polyline stroke="#e25b45" points="602.0,1245.4 604.9,1255.6 608.1,1265.8 611.4,1206.7 613.4,1198.6 616.3,1214.9 620.4,1216.9 623.6,1218.9 626.5,1194.5 629.3,1182.3 632.6,1190.4 638.7,1190.4 641.6,1166.0 644.0,1151.7 646.9,1151.7 648.9,1178.2 652.2,1182.3 655.0,1186.3 657.9,1153.7 660.3,1170.0 663.2,1206.7 667.2,1204.7 670.1,1202.6 672.5,1229.1 677.4,1229.1 680.3,1206.7 683.5,1202.6 686.4,1206.7 689.6,1212.8 693.7,1208.7 697.8,1216.9 701.9,1225.0 705.9,1233.2 709.2,1231.2 713.3,1243.4 717.3,1255.6 721.0,1290.2 724.3,1292.3 728.3,1271.9 732.4,1259.7 735.3,1269.9 738.5,1233.2 741.8,1247.4 746.7,1245.4 750.8,1255.6 754.0,1241.3 756.9,1271.9 760.9,1300.4 765.0,1314.7 768.3,1324.9 771.1,1357.5 774.4,1328.9 779.3,1308.6 782.5,1276.0 785.4,1253.6 788.2,1271.9 791.5,1288.2 794.8,1278.0 797.6,1267.8 800.5,1294.3 803.7,1288.2 808.6,1276.0 811.9,1223.0 814.7,1188.4 818.0,1186.3 822.1,1184.3 826.1,1180.2 829.0,1218.9 831.0,1235.2 834.3,1225.0 838.4,1231.2 842.4,1237.3 845.3,1255.6 848.5,1239.3 851.4,1221.0 854.7,1235.2 857.5,1247.4 860.0,1257.6 864.0,1255.6 866.9,1196.5 873.0,1194.5 876.2,1166.0 879.1,1127.3 882.0,1143.5 885.2,1137.4 888.5,1131.3 891.3,1161.9 894.2,1108.9 896.6,1090.6 900.7,1080.4 904.4,1070.2 907.6,1100.8 910.5,1068.2 913.7,1047.8 917.8,1051.9 921.1,1068.2 923.9,1084.5 926.8,1055.9 930.0,1039.6 934.9,1035.6 938.2,1023.4 942.3,1015.2 945.5,1007.1 949.6,1007.1 952.4,1033.5 955.3,1011.1 958.6,1003.0 962.6,996.9 966.7,992.8 970.0,974.5 972.8,1007.1 976.9,1009.1 981.0,1015.2 983.8,1019.3 987.1,1039.6 990.3,1003.0 994.4,982.6 998.5,964.3 1001.3,966.3 1004.2,982.6 1006.6,958.2 1010.7,960.2 1014.8,962.2 1017.6,978.5 1021.7,994.8 1025.8,970.4 1029.9,968.3 1033.9,994.8 1038.0,980.6 1042.1,970.4 1048.2,958.2 1051.5,974.5 1055.5,954.1 1059.6,939.8 1065.3,939.8 1068.6,945.9 1074.7,939.8 1077.5,962.2 1080.0,982.6 1084.0,978.5 1088.1,992.8 1092.2,1007.1 1095.0,1015.2 1097.1,1033.5 1100.3,1023.4 1105.2,1023.4 1108.5,1000.9 1111.3,1003.0 1114.2,1023.4 1119.5,1019.3 1123.6,1007.1 1126.4,1007.1 1128.5,1033.5 1131.7,1007.1 1137.0,1007.1 1139.9,1023.4 1143.9,1035.6 1146.0,1045.8 1150.1,1027.4 1154.1,1009.1 1158.2,1011.1 1162.3,1003.0 1166.4,1009.1 1169.6,1023.4 1172.5,1025.4 1175.3,1062.1 1179.4,1070.2 1183.5,1074.3 1187.5,1117.1 1191.6,1074.3 1196.9,1086.5 1198.9,1094.7 1201.0,1121.1 1203.0,1104.8 1205.9,1125.2 1207.9,1133.4 1211.2,1125.2 1215.2,1108.9 1218.5,1090.6 1221.4,1108.9 1224.2,1131.3 1227.5,1125.2 1230.7,1125.2 1232.8,1166.0 1235.6,1206.7 1241.7,1206.7 1245.8,1206.7 1247.8,1188.4 1250.7,1204.7 1252.7,1194.5 1256.0,1223.0 1259.3,1237.3 1262.1,1249.5 1265.0,1223.0 1268.2,1166.0 1271.5,1115.0 1274.3,1133.4 1277.2,1151.7 1279.6,1125.2 1282.5,1113.0 1284.5,1133.4 1287.8,1086.5 1290.6,1098.7 1293.5,1060.0 1296.7,1035.6 1300.0,1031.5 1303.0,1025.4 1307.9,1019.3 1310.3,1043.7 1312.3,1060.0 1314.4,1062.1 1317.2,1084.5 1320.1,1080.4 1323.3,1072.2 1326.2,1037.6 1328.6,1055.9 1331.5,1029.5 1334.3,1039.6 1337.6,1047.8 1340.5,1039.6 1343.7,1039.6 1346.6,1023.4 1349.8,1011.1 1352.7,1017.2 1355.9,1019.3 1358.0,994.8 1360.8,948.0 1363.3,988.7 1366.1,978.5 1369.4,964.3 1372.2,958.2 1374.3,962.2 1377.5,952.0 1380.4,950.0 1384.5,950.0 1387.7,949.2 1390.6,946.8 1393.4,956.1 1396.7,962.2 1399.9,970.4 1402.8,978.5 1405.6,976.5 1408.9,988.7 1411.8,978.5 1416.2,972.4 1419.1,980.6 1421.9,992.8 1425.2,996.9 1429.3,1000.9 1432.5,1003.0 1435.4,1035.6 1438.2,1060.0 1441.5,1068.2 1444.8,1080.4 1447.6,1084.5 1451.7,1072.2 1455.8,1068.2 1458.6,1076.3 1461.9,1088.5 1464.7,1100.8 1468.0,1108.9 1470.8,1111.0 1473.3,1141.5 1476.1,1147.6 1479.0,1151.7 1481.0,1100.8 1483.5,1100.8 1485.5,1161.9 1489.2,1178.2 1493.2,1190.4 1496.5,1198.6 1499.4,1206.7 1500.0,1194.5 1503.3,1174.1 1508.1,1170.0 1512.2,1157.8 1516.3,1131.3 1522.4,1133.4 1527.7,1102.8 1531.8,1117.1 1535.9,1113.0 1539.9,1125.2 1544.8,1141.5 1549.7,1119.1 1555.0,1131.3 1560.3,1119.1 1565.2,1131.3 1571.3,1133.4 1576.6,1096.7 1579.5,1117.1 1585.6,1123.2 1591.7,1131.3 1597.8,1127.3 1603.9,1145.6 1608.0,1131.3 1612.0,1143.5 1616.1,1131.3 1621.0,1106.9 1624.3,1149.7 1628.3,1186.3 1633.6,1210.8 1638.5,1237.3 1643.4,1241.3 1648.7,1235.2 1654.0,1241.3 1658.9,1206.7 1663.8,1202.6 1667.9,1239.3 1671.1,1206.7 1675.2,1157.8 1679.3,1153.7 1682.5,1174.1 1686.6,1174.1 1690.7,1210.8 1694.8,1231.2 1698.8,1239.3 1702.9,1186.3 1707.0,1190.4 1711.9,1174.1 1715.9,1206.7 1720.0,1249.5 1724.1,1253.6 1729.0,1251.5 1733.1,1267.8 1737.1,1288.2 1742.4,1294.3 1746.5,1288.2 1749.4,1282.1 1752.6,1300.4 1757.5,1304.5 1760.8,1300.4 1764.0,1314.7 1768.1,1302.5 1772.2,1318.8 1776.2,1322.8 1780.3,1314.7 1784.4,1290.2 1790.1,1290.2 1793.4,1286.2 1796.6,1288.2 1800.7,1278.0 1804.8,1271.9 1808.8,1247.4 1812.9,1221.0 1817.0,1218.9 1821.9,1235.2 1826.0,1206.7 1830.8,1174.1 1834.9,1174.1 1839.0,1159.8 1842.3,1190.4 1846.3,1208.7 1850.4,1202.6 1855.3,1227.1 1858.6,1239.3 1862.6,1221.0 1867.5,1233.2 1870.0,1255.6 1874.0,1233.2 1878.1,1247.4 1883.0,1251.5 1887.1,1206.7 1891.2,1153.7 1897.3,1151.7 1901.3,1137.4 1905.4,1125.2 1908.3,1149.7 1912.3,1121.1 1917.6,1096.7 1920.5,1106.9 1924.6,1092.6 1929.9,1092.6 1933.9,1108.9 1938.0,1117.1 1944.1,1123.2 1948.2,1143.5 1952.3,1117.1 1957.2,1135.4 1961.2,1139.5 1966.5,1131.3 1971.8,1125.2 1977.5,1125.2 1982.8,1141.5 1985.7,1178.2 1989.8,1186.3 1993.8,1194.5 1997.9,1190.4 2002.0,1163.9 2007.3,1186.3 2011.3,1159.8 2014.2,1186.3 2019.5,1182.3 2025.6,1178.2 2029.7,1225.0 2034.6,1233.2 2038.6,1214.9 2042.7,1186.3 2046.0,1206.7 2050.1,1231.2 2054.1,1247.4 2058.2,1265.8 2063.1,1259.7 2067.2,1247.4 2072.5,1237.3 2076.5,1241.3 2080.6,1261.7 2084.7,1227.1 2088.8,1204.7 2092.8,1231.2 2096.9,1247.4 2101.0,1255.6 2105.1,1261.7 2109.1,1243.4 2115.2,1237.3 2120.1,1233.2 2124.2,1247.4 2127.5,1223.0 2131.5,1223.0 2134.8,1202.6 2137.7,1300.4 2141.7,1310.6 2145.8,1302.5 2149.9,1312.6 2154.0,1282.1 2158.0,1312.6 2162.1,1304.5 2166.2,1265.8 2169.0,1300.4 2172.3,1314.7 2177.2,1324.9 2182.5,1345.2 2186.6,1337.1 2191.8,1355.4 2196.7,1363.6 2200.0,1369.7 2203.3,1369.7 2206.1,1377.8 2209.0,1386.0 2214.3,1386.0 2218.3,1394.9 2222.4,1386.0 2226.5,1375.8 2230.6,1381.9 2234.6,1386.0 2242.8,1386.0 2245.6,1361.5 2248.9,1345.2 2253.0,1349.3 2257.9,1353.4 2261.1,1337.1 2264.4,1335.0 2267.2,1318.8 2270.1,1302.5 2272.5,1292.3 2275.4,1302.5 2278.2,1276.0 2280.7,1265.8 2283.5,1271.9 2286.4,1263.7 2289.6,1276.0 2291.7,1284.1 2294.5,1269.9 2298.6,1265.8 2302.7,1259.7 2305.1,1235.2 2306.8,1257.6 2309.2,1247.4 2312.0,1208.7 2314.9,1198.6 2318.2,1191.2 2320.6,1194.5 2323.0,1233.2 2325.5,1243.4 2328.3,1231.2 2331.2,1247.4 2334.5,1255.6 2336.5,1253.6 2338.5,1271.9 2342.6,1291.5 2347.5,1288.2 2352.8,1284.9 2356.9,1267.8 2359.7,1257.6 2363.0,1259.7 2367.1,1279.2 2369.1,1278.0 2371.9,1227.1 2374.4,1194.5 2378.5,1186.3 2382.5,1182.3 2385.4,1174.9 2387.4,1176.1 2390.3,1198.6 2393.5,1210.8 2396.4,1218.1 2398.8,1198.6 2400.5,1201.8 2403.7,1161.9 2407.8,1190.4 2411.1,1216.9 2413.9,1190.4 2416.8,1178.2 2418.8,1163.9 2420.8,1223.0 2424.1,1241.3 2427.4,1257.6 2430.2,1267.8 2432.2,1208.7 2435.5,1223.0 2438.4,1200.6 2442.4,1200.6 2446.5,1178.2 2449.4,1149.7 2452.6,1145.6 2456.7,1143.5 2460.8,1139.5 2462.8,1117.1 2465.7,1062.1 2468.9,1068.2 2473.0,1080.4 2476.2,1090.6 2480.3,1090.6 2483.2,1080.4 2487.3,1096.7 2490.1,1113.0 2494.2,1123.2 2497.4,1096.7 2501.5,1095.9 2504.8,1095.9 2507.6,1074.3 2510.5,1051.9 2514.5,1049.8 2517.8,1041.7 2521.9,1031.5 2524.7,1062.1 2529.2,1063.3 2534.9,1063.3 2538.2,1047.8 2542.3,1051.9 2546.3,1051.9 2550.4,1055.9 2553.7,1031.5 2556.5,1041.7 2560.6,1045.8 2564.7,1047.0 2568.7,1047.0 2571.6,1051.9 2575.7,1051.9 2579.7,1043.7 2583.8,1039.6 2587.1,1047.8 2591.2,1060.0 2594.4,1064.1 2598.5,1067.4 2601.3,1064.1 2604.2,1047.8 2606.6,1060.0 2609.5,1051.9 2612.3,1041.7 2615.6,1031.5 2618.9,1015.2 2622.9,1007.1 2625.8,1015.2 2628.6,1025.4 2631.9,1027.4 2633.9,1043.7 2636.8,1045.8 2639.2,1062.1 2643.3,1058.0 2646.2,1064.1 2650.2,1072.2 2652.3,1068.2 2654.3,1088.5 2658.4,1080.4 2663.7,1064.1 2668.6,1064.1 2671.8,1076.3 2674.7,1088.5 2677.5,1080.4 2680.8,1082.4 2682.8,1095.9 2686.9,1096.7 2693.0,1096.7 2697.9,1092.6 2701.2,1092.6 2705.2,1091.8 2709.3,1075.5 2711.3,1104.8 2715.4,1100.8 2719.5,1100.8 2723.6,1106.9 2727.6,1092.6 2731.7,1091.8 2735.8,1091.8 2738.6,1090.6 2741.9,1068.2 2746.0,1043.7 2750.1,1027.4 2753.3,1019.3 2756.2,1064.1 2759.0,1043.7 2762.3,1025.4 2765.5,1029.5 2768.4,1039.6 2771.2,1045.8 2774.5,1049.8 2778.6,1043.7 2782.7,1035.6 2786.7,1025.4 2790.8,1009.1 2794.9,1015.2 2798.9,1027.4 2802.2,1025.4 2803.8,1007.1 2806.3,1027.4 2809.1,1039.6 2813.2,1039.6 2817.3,1043.7 2820.1,1047.8 2823.4,1068.2 2826.7,1074.3 2830.7,1074.3 2833.6,1088.5 2836.4,1096.7 2839.7,1100.8 2845.8,1100.8 2851.1,1100.8 2854.4,1106.9 2858.0,1102.8 2862.1,1096.7 2865.0,1104.8 2868.2,1086.5 2872.3,1076.3 2876.4,1072.2 2879.6,1060.0 2883.7,1058.0 2887.8,1045.8 2891.8,1049.8 2895.9,1047.8 2897.8,1031.5 2900.6,1055.9 2903.9,1039.6 2908.0,1029.5 2912.0,1025.4 2916.1,1029.5 2920.2,1031.5 2924.3,1035.6 2928.3,1047.8 2932.4,1055.9 2936.5,1063.3 2940.6,1066.1 2943.4,1047.8 2946.7,1029.5 2950.8,1031.5 2954.0,1039.6 2956.9,1039.6 2959.7,1007.1 2963.0,991.6 2965.0,1051.9 2969.1,1051.9 2973.2,1051.9 2976.0,1041.7 2979.3,1051.1 2983.4,1051.1 2986.6,1051.9 2989.5,1076.3 2992.3,1084.5 2995.6,1074.3 3002.5,1074.3 3004.9,1051.9 3009.8,1051.9 3013.9,1049.8 3018.0,1043.7 3020.8,1025.4 3023.3,1039.6 3026.9,1060.0 3030.2,1055.9 3033.1,1047.8 3035.5,1035.6 3038.4,1051.9 3041.2,1047.8 3043.7,1045.8 3046.5,1053.9 3049.4,1047.8 3052.6,1038.4 3055.9,1037.6 3057.9,1060.0"/>
</g>
<rect x="602.3" y="1461.8" width="2455.4" height="4" fill="#ffffff"/>
<g font-family='"Liberation Sans", sans-serif' fill="#ffffff" font-size="25" stroke="#ffffff" stroke-width=".45">
<text x="598.8" y="1472.1" text-anchor="end" textLength="14.5" lengthAdjust="spacing">0</text>
<text x="598.8" y="1347.3" text-anchor="end" textLength="29" lengthAdjust="spacing">20</text>
<text x="598.8" y="1222.5" text-anchor="end" textLength="29" lengthAdjust="spacing">40</text>
<text x="598.8" y="1097.6" text-anchor="end" textLength="29" lengthAdjust="spacing">60</text>
<text x="598.8" y="972.8" text-anchor="end" textLength="29" lengthAdjust="spacing">80</text>
<text x="598.8" y="848.0" text-anchor="end" textLength="43" lengthAdjust="spacing">100</text>
<text x="941.8" y="1489.5" textLength="102.5" lengthAdjust="spacing">Jul 2023</text>
<text x="1346.6" y="1489.5" textLength="110" lengthAdjust="spacing">Jan 2024</text>
<text x="1754.5" y="1489.5" textLength="102.5" lengthAdjust="spacing">Jul 2024</text>
<text x="2159.3" y="1489.5" textLength="110" lengthAdjust="spacing">Jan 2025</text>
<text x="2564.9" y="1489.5" textLength="102.5" lengthAdjust="spacing">Jul 2025</text>
<text x="2969.8" y="1489.5" textLength="110" lengthAdjust="spacing">Jan 2026</text>
</g>
<text transform="translate(514.7,1217.2) rotate(-90)" font-family='"Liberation Sans", sans-serif' font-size="29" fill="#ffffff" stroke="#ffffff" stroke-width=".45" textLength="131.7" lengthAdjust="spacing">% Stocks</text>
<text x="578.8" y="751.6" font-family='"Liberation Sans", sans-serif' font-size="34.5" fill="#ffffff" stroke="#ffffff" stroke-width=".5" textLength="569" lengthAdjust="spacing">Market Breadth (% Stocks &gt; MA)</text>
<g font-family='"Liberation Sans", sans-serif' font-size="25" fill="#ffffff" stroke="#ffffff" stroke-width=".45">
<rect x="2386" y="715.5" width="60" height="4" fill="#519bda"/>
<text x="2457" y="727.7" textLength="129.7" lengthAdjust="spacing">MA 20 (%)</text>
<rect x="2608" y="715.5" width="60" height="4" fill="#efc63f"/>
<text x="2678.5" y="727.7" textLength="130.2" lengthAdjust="spacing">MA 50 (%)</text>
<rect x="2829.5" y="715.5" width="60" height="4" fill="#e25b45"/>
<text x="2900.6" y="727.7" textLength="144.6" lengthAdjust="spacing">MA 200 (%)</text>
</g>
</svg>

<svg class="wm" width="3600" height="2338" viewBox="0 0 3600 2338">
<defs><clipPath id="wmclip"><rect x="422" y="1563.5" width="2756" height="518"/></clipPath></defs>
<g clip-path="url(#wmclip)">
<path d="M1290 1540L1395 1656l72 44 450 140 304-244 110-60 40-40z" fill="#000" opacity=".22"/>
<path d="M1308 1540l87 116 72 44 450 140 304-244 118-62" fill="none" stroke="#b8902f" stroke-width="16" opacity=".085"/>
<path d="M1362 1540l74 92 70 40 408 128 270-218 120-64" fill="none" stroke="#b8902f" stroke-width="12" opacity=".07"/>
<path d="M1330 1548l520-6 0 30-470 96z" fill="#8a6a30" opacity=".09"/>
<g fill="#a07840" opacity=".11">
<path d="M1700 1700l52-62 40 44 24 50z"/><path d="M1790 1712l70-90 52 50 30 60z"/><path d="M1880 1700l40-60 56-20 40 60-30 50z"/><path d="M1960 1640l50-40 40 30-30 50z"/>
</g>
<text transform="translate(1508,1682) rotate(-13.5)" font-family="'Liberation Serif',serif" font-weight="700" font-size="74" fill="#fff" opacity=".07" textLength="810" lengthAdjust="spacing">Deep Market Prospecting</text>
</g>
</svg>


<div class="info"></div>

<!-- emoji icons -->
<svg class="ico" style="left:478px;top:1910px" width="38" height="32" viewBox="0 0 38 32"><defs><linearGradient id="gck" x1="0" y1="0" x2="0" y2="1"><stop offset="0" stop-color="#62c04a"/><stop offset="1" stop-color="#3f9a30"/></linearGradient></defs><g transform="translate(3,1.200) skewX(-12) translate(6,0)"><rect x="0" y="0" width="27.500" height="29" rx="5.500" fill="url(#gck)"/><path d="M6 15.500l5.200 6.300L21.800 6.800" fill="none" stroke="#fff" stroke-width="4" stroke-linecap="round" stroke-linejoin="round"/></g></svg>
<svg class="ico" style="left:477px;top:1957px" width="38" height="29" viewBox="0 0 38 29"><defs><linearGradient id="gwn" x1="0" y1="0" x2="0" y2="1"><stop offset="0" stop-color="#fbd54a"/><stop offset="1" stop-color="#f2b62b"/></linearGradient></defs><g transform="translate(3,1.500) skewX(-12) translate(5.500,0)"><path d="M13.500 .6c.9 0 1.700.5 2.200 1.400l10 18.800c.9 1.700-.3 3.800-2.200 3.800H3.500c-1.900 0-3.100-2.100-2.200-3.800l10-18.800c.5-.9 1.300-1.400 2.200-1.400z" fill="url(#gwn)"/><rect x="12" y="8" width="3" height="9" rx="1.500" fill="#222"/><circle cx="13.500" cy="20.300" r="1.800" fill="#222"/></g></svg>

<div style="position:absolute;left:645.8px;top:291px;width:930px;height:2.8px;background:repeating-linear-gradient(90deg,#8c8c8c 0 2.7px,transparent 2.7px 5.15px);"></div>
<svg class="ico" style="left:747px;top:266px" width="22" height="26" viewBox="0 0 22 26"><path d="M11 2.800v19.600M2.700 14.300l8.300 8.300 8.300-8.300" fill="none" stroke="#8c8c8c" stroke-width="2.700"/></svg>
<svg class="ico" style="left:812.3px;top:266px" width="22" height="26" viewBox="0 0 22 26"><path d="M11 23.800V4.200M2.700 12.300L11 4l8.300 8.300" fill="none" stroke="#8c8c8c" stroke-width="2.700"/></svg>

<span class="t " style="left:645.3px;top:264.2px;font-size:29px;font-weight:400;font-style:normal;color:#8c8c8c;letter-spacing:0.484px;">A seta (</span>
<span class="t " style="left:778.0px;top:264.2px;font-size:29px;font-weight:400;font-style:normal;color:#8c8c8c;letter-spacing:0.000px;">or</span>
<span class="t " style="left:833.7px;top:264.2px;font-size:29px;font-weight:400;font-style:normal;color:#8c8c8c;letter-spacing:0.147px;">) indica a variação do RSI em relação ao pregão anterior.</span>
<h2 class="t " style="left:441.6px;top:451.3px;font-size:50.5px;font-weight:700;font-style:normal;color:#e2e2e2;letter-spacing:-1.605px;">Market Breadth (Amplitude de Mercado)</h2>
<span class="t " style="left:442.2px;top:608.3px;font-size:33px;font-weight:400;font-style:normal;color:#e0e0e0;letter-spacing:-0.295px;">Universo:</span>
<span class="t " style="left:585.8px;top:608.3px;font-size:33px;font-weight:700;font-style:normal;color:#e0e0e0;letter-spacing:0.544px;">114/120</span>
<span class="t " style="left:715.7px;top:608.3px;font-size:33px;font-weight:400;font-style:normal;color:#e0e0e0;letter-spacing:0.145px;">(cobertura:</span>
<span class="t " style="left:884.1px;top:608.3px;font-size:33px;font-weight:700;font-style:normal;color:#e0e0e0;letter-spacing:2.913px;">95.0%</span>
<span class="t " style="left:986.8px;top:608.3px;font-size:33px;font-weight:400;font-style:normal;color:#e0e0e0;letter-spacing:0.000px;">)</span>
<span class="t " style="left:480.8px;top:1712.5px;font-size:30px;font-weight:700;font-style:normal;color:#e0e0e0;letter-spacing:0.750px;">Market Breadth (Amplitude de Mercado)</span>
<span class="t " style="left:1083.1px;top:1712.5px;font-size:30px;font-weight:400;font-style:normal;color:#e0e0e0;letter-spacing:0.567px;">Market Breadth (Amplitude ou Fôlego de Mercado) mede a participação individual de ativos no movimento geral, a partir da proporção de ações do</span>
<span class="t " style="left:480.7px;top:1757.5px;font-size:30px;font-weight:400;font-style:normal;color:#e0e0e0;letter-spacing:0.468px;">IBOV que estão negociando acima das suas médias móveis (MM20, MM50, MM200).</span>
<span class="t " style="left:480.9px;top:1833.2px;font-size:30px;font-weight:700;font-style:normal;color:#e0e0e0;letter-spacing:-0.066px;">PORQUE ISSO É IMPORTANTE:</span>
<span class="t " style="left:939.0px;top:1833.2px;font-size:30px;font-weight:400;font-style:normal;color:#e0e0e0;letter-spacing:0.456px;">É uma versão mais avançada e detalhada do sentimento, captando momentos técnicos. Ele confirma tendências ou alerta sobre exaustão e reversões.</span>
<span class="t " style="left:519.4px;top:1909.1px;font-size:30px;font-weight:700;font-style:italic;color:#e0e0e0;letter-spacing:0.672px;">Valores abaixo de 20 (fundo):</span>
<span class="t " style="left:962.4px;top:1909.1px;font-size:30px;font-weight:400;font-style:italic;color:#e0e0e0;letter-spacing:0.574px;">Exaustão vendedora, possíveis fundos de mercado (Oportunidade).</span>
<span class="t " style="left:519.4px;top:1955.4px;font-size:30px;font-weight:700;font-style:italic;color:#e0e0e0;letter-spacing:0.773px;">Valores acima de 80 (topo):</span>
<span class="t " style="left:936.0px;top:1955.4px;font-size:30px;font-weight:400;font-style:italic;color:#e0e0e0;letter-spacing:0.442px;">Exaustão compradora, possíveis topos (Cautela).</span>
<h2 class="t " style="left:440.9px;top:2181.3px;font-size:50.5px;font-weight:700;font-style:normal;color:#e2e2e2;letter-spacing:-1.991px;">Cripto Medo e Ganância (BTC)</h2>

<!-- header -->
<div class="hdr"></div>
<div style="position:absolute;z-index:6;left:0;top:0;">
<svg class="ico" style="left:76px;top:156px" width="64" height="66" viewBox="0 0 64 66"><use href="#logo"/></svg>
<svg class="ico" style="left:110px;top:137px" width="560" height="104" viewBox="110 137 560 104" aria-label="Garimpo Market Feeling">
<defs><linearGradient id="tg" gradientUnits="userSpaceOnUse" x1="159" x2="598" y1="0" y2="0"><stop offset="0" stop-color="#f2bd32"/><stop offset=".6" stop-color="#eda136"/><stop offset="1" stop-color="#e68d36"/></linearGradient>
<filter id="tglow" x="-10%" y="-80%" width="120%" height="260%"><feGaussianBlur stdDeviation="9"/></filter></defs>
<g font-family='"Liberation Sans", sans-serif' font-size="40" font-weight="700" stroke-linejoin="round">
<text x="158.200" y="204.300" textLength="441" lengthAdjust="spacing" fill="#f0a630" stroke="#f0a630" stroke-width="1.500" opacity=".36" filter="url(#tglow)">Garimpo Market Feeling</text>
<text x="158.200" y="204.300" textLength="441" lengthAdjust="spacing" fill="url(#tg)" stroke="url(#tg)" stroke-width="1">Garimpo Market Feeling</text>
</g></svg>
<div class="btn" style="left:3188px;width:160px;background:#5598d6;"></div>
<div class="btn" style="left:3368px;width:154px;background:#6d7fe6;"></div>
<span class="t " style="left:3210.1px;top:174.6px;font-size:29.3px;font-weight:400;font-style:normal;color:#ffffff;letter-spacing:0.270px;">Atualizar</span>
<span class="t " style="left:3399.1px;top:174.6px;font-size:29.3px;font-weight:400;font-style:normal;color:#ffffff;letter-spacing:0.312px;">Fechar</span>
</div>

</div></div>
</body>
</html>
